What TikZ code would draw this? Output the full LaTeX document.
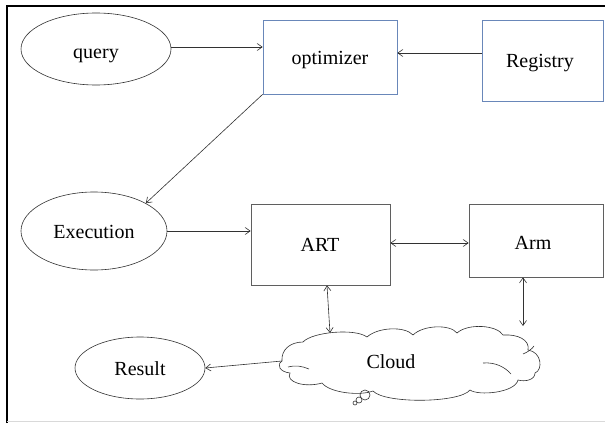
\documentclass[tikz,border=0pt]{standalone}
\usepackage{fontspec}
\setmainfont{Liberation Serif}
\usetikzlibrary{shapes.geometric,arrows.meta}
\definecolor{bluebox}{RGB}{105,135,185}
\definecolor{graybox}{RGB}{95,95,95}
\definecolor{linec}{RGB}{50,50,50}
\tikzset{
  lbl/.style={font=\fontsize{20}{24}\selectfont, text height=1.45ex, text depth=0.25ex},
  txt/.style={lbl, inner sep=0pt, draw=none},
  oval/.style={ellipse, draw=linec, line width=0.6pt, inner sep=0pt},
  bluerect/.style={rectangle, draw=bluebox, line width=0.7pt, inner sep=0pt},
  grayrect/.style={rectangle, draw=graybox, line width=0.7pt, inner sep=0pt},
  cloudline/.style={draw=linec, line width=0.6pt},
  conn/.style={draw=linec, line width=0.6pt, -{Straight Barb[length=5pt,width=7pt]}},
  biconn/.style={draw=linec, line width=0.6pt, {Straight Barb[length=5pt,width=7pt]}-{Straight Barb[length=5pt,width=7pt]}},
}
\begin{document}
\begin{tikzpicture}[x=1pt,y=-1pt]
\useasboundingbox (0,0) rectangle (605,423);
\fill[white] (0,0) rectangle (605,423);
% frame
\draw[black, line width=2.5pt] (7,423) -- (7,6) -- (605,6);
\draw[black!15, line width=1pt] (7,421) -- (605,421);

% shapes
\node[oval, minimum width=150pt, minimum height=72pt] (query) at (96,49) {};
\node[bluerect, minimum width=134pt, minimum height=74pt] (opt) at (330,57) {};
\node[bluerect, minimum width=121pt, minimum height=81pt] (reg) at (542.5,60.5) {};
\node[oval, minimum width=146pt, minimum height=78pt] (exec) at (94,231) {};
\node[grayrect, minimum width=139pt, minimum height=81pt] (art) at (320.5,244.5) {};
\node[grayrect, minimum width=134pt, minimum height=73pt] (arm) at (536,240.5) {};
\node[oval, minimum width=130pt, minimum height=62pt] (res) at (140,368) {};

% labels
\node[txt] (queryt) at (96,56) {query};
\node[txt] (optt) at (330,62) {optimizer};
\node[txt] (regt) at (540,65) {Registry};
\node[txt] (exect) at (94,236) {Execution};
\node[txt] (artt) at (320,249) {ART};
\node[txt] (armt) at (533,247) {Arm};
\node[txt] (rest) at (140,373) {Result};

% cloud outline
\draw[cloudline, fill=white]
  (282,361) .. controls (281,350) and (290,342) .. (303,342)
  .. controls (312,332) and (355,328) .. (367,337)
  .. controls (378,327) and (405,326) .. (413,335)
  .. controls (423,325) and (450,324) .. (457,333)
  .. controls (468,323) and (497,325) .. (503,335)
  .. controls (518,334) and (530,340) .. (528,350)
  .. controls (542,352) and (543,370) .. (535,373)
  .. controls (535,380) and (525,382) .. (518,380)
  .. controls (515,393) and (478,396) .. (470,390)
  .. controls (460,403) and (385,404) .. (373,391)
  .. controls (360,396) and (330,393) .. (322,383)
  .. controls (305,388) and (285,382) .. (290,373)
  .. controls (280,372) and (276,365) .. (282,361) -- cycle;
% inner strokes of the cloud
\draw[cloudline] (288,367) .. controls (295,365) and (302,366) .. (309,369);
\draw[cloudline] (483,363) .. controls (495,362) and (505,367) .. (511,374);
\draw[cloudline] (523,354) .. controls (528,352) and (532,349) .. (534,346);
% callout bubbles
\draw[cloudline] (365,395) circle (5pt);
\draw[cloudline] (359,400) circle (3pt);
\draw[cloudline] (355,403) circle (2pt);
\node[txt] (cloud) at (391,366) {Cloud};

% helper coordinates
\coordinate (cloudW) at (282,361);
\coordinate (cloudTop) at (330,333);
\coordinate (armend) at (523,326);
\coordinate (yq) at (0,47);
\coordinate (yr) at (0,53);
\coordinate (ye) at (0,231);
\coordinate (ya) at (0,243);
\coordinate (xart) at (327,0);
\coordinate (xarm) at (523,0);

% connectors
\draw[conn] (query.east |- yq) -- (opt.west |- yq);
\draw[conn] (reg.west |- yr) -- (opt.east |- yr);
\draw[conn] (opt.south west) -- (exec.north east);
\draw[conn] (exec.east |- ye) -- (art.west |- ye);
\draw[biconn] (art.east |- ya) -- (arm.west |- ya);
\draw[biconn] (art.south -| xart) -- (cloudTop);
\draw[biconn] (arm.south -| xarm) -- (armend);
\draw[conn] (cloudW) -- (res.east);
\end{tikzpicture}
\end{document}
